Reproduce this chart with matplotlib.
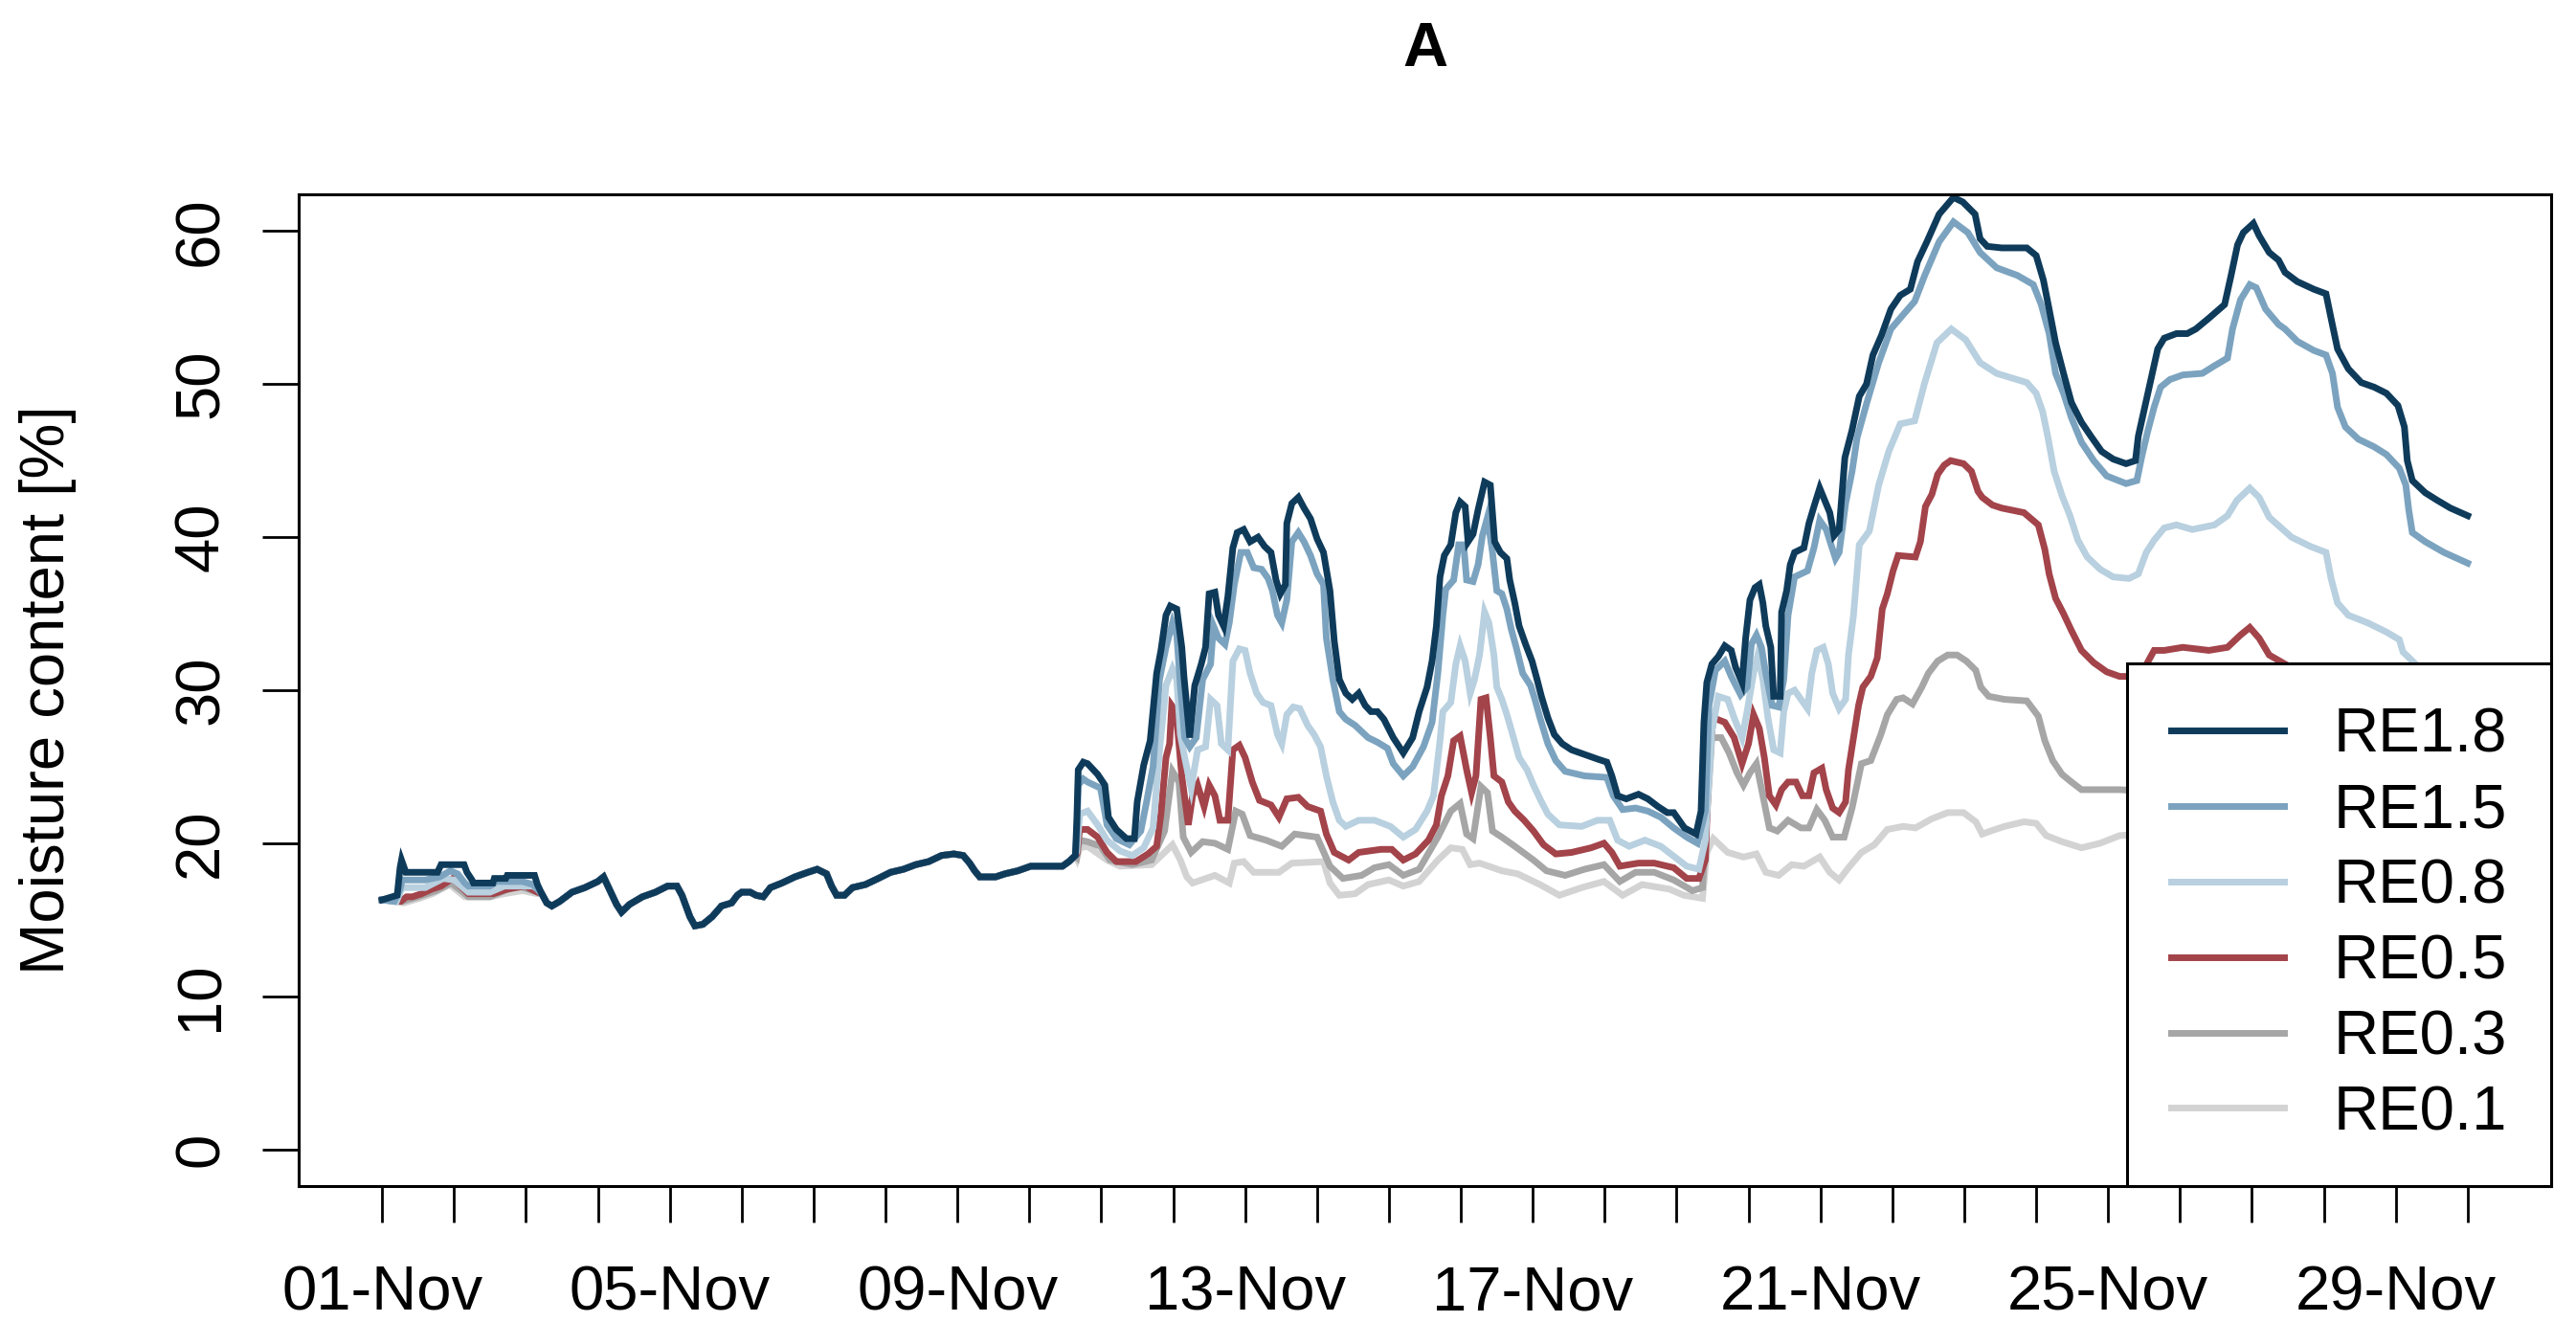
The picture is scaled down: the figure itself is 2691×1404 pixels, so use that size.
import matplotlib
matplotlib.use("Agg")
import matplotlib.pyplot as plt

plt.rcParams['font.family'] = ['Liberation Sans', 'DejaVu Sans']

# x = days since 01-Nov 00:00, y = moisture content [%]
series_names = ['RE1.8', 'RE1.5', 'RE0.8', 'RE0.5', 'RE0.3', 'RE0.1']
series_colors = ['#0f3b5b', '#7ba3bf', '#b8d0df', '#a3434a', '#a6a6a6', '#d3d3d3']

day_labels = ['01-Nov', '05-Nov', '09-Nov', '13-Nov', '17-Nov', '21-Nov', '25-Nov', '29-Nov']

# common stretch (02-Nov .. 10-Nov) where all curves lie on top of each other
base_t = [2.22, 2.29, 2.36, 2.47, 2.64, 2.82, 3.0, 3.08, 3.17, 3.26, 3.33, 3.44, 3.62, 3.8,
          3.97, 4.1, 4.17, 4.28, 4.35, 4.46, 4.59, 4.72, 4.86, 4.94, 5.0, 5.12, 5.2, 5.3,
          5.4, 5.56, 5.74, 5.92, 6.05, 6.18, 6.25, 6.32, 6.43, 6.54, 6.72, 6.9, 7.07, 7.25,
          7.42, 7.6, 7.78, 7.95, 8.08, 8.17, 8.24, 8.31, 8.53, 8.66, 8.84, 9.02, 9.2, 9.46,
          9.55, 9.64]
base_v = [16.7, 16.1, 15.9, 16.2, 16.8, 17.1, 17.5, 17.8, 16.9, 16.0, 15.5, 16.0, 16.5, 16.8,
          17.2, 17.2, 16.6, 15.2, 14.6, 14.7, 15.2, 15.9, 16.1, 16.6, 16.8, 16.8, 16.6, 16.5,
          17.1, 17.4, 17.8, 18.1, 18.3, 18.0, 17.2, 16.6, 16.6, 17.1, 17.3, 17.7, 18.1, 18.3,
          18.6, 18.8, 19.2, 19.3, 19.2, 18.7, 18.2, 17.8, 17.8, 18.0, 18.2, 18.5, 18.5, 18.5,
          18.8, 19.2]

# RE1.8
re18_start_t = [0, 0.21, 0.25, 0.27, 0.33, 0.77, 0.82, 1.14, 1.18, 1.25, 1.27, 1.54, 1.56,
                1.72, 1.74, 2.12, 2.16]
re18_start_v = [16.3, 16.6, 18.4, 18.9, 18.1, 18.1, 18.6, 18.6, 18.1, 17.6, 17.4, 17.4, 17.7,
                17.7, 17.9, 17.9, 17.3]
re18_end_t = [9.66, 9.68, 9.75, 9.81, 9.95, 10.05, 10.1, 10.21, 10.35, 10.46, 10.5, 10.59,
              10.68, 10.77, 10.83, 10.9, 10.96, 11.05, 11.12, 11.15, 11.23, 11.3, 11.39, 11.45,
              11.5, 11.58, 11.63, 11.7, 11.76, 11.83, 11.89, 11.98, 12.07, 12.18, 12.27, 12.36,
              12.43, 12.49, 12.56, 12.58, 12.65, 12.74, 12.82, 12.91, 13.0, 13.09, 13.18, 13.24,
              13.31, 13.4, 13.49, 13.58, 13.67, 13.75, 13.84, 13.93, 14.06, 14.2, 14.33, 14.42,
              14.53, 14.6, 14.66, 14.71, 14.77, 14.86, 14.93, 14.99, 15.06, 15.1, 15.17, 15.24,
              15.33, 15.41, 15.47, 15.55, 15.64, 15.68, 15.75, 15.81, 15.9, 15.99, 16.06, 16.12,
              16.21, 16.3, 16.41, 16.54, 16.72, 16.9, 17.03, 17.1, 17.18, 17.3, 17.47, 17.6,
              17.74, 17.87, 17.96, 18.11, 18.27, 18.34, 18.38, 18.42, 18.49, 18.58, 18.67, 18.76,
              18.82, 18.91, 18.96, 19.02, 19.09, 19.15, 19.2, 19.24, 19.31, 19.35, 19.44, 19.46,
              19.53, 19.58, 19.64, 19.77, 19.84, 19.91, 19.99, 20.06, 20.13, 20.19, 20.26, 20.34,
              20.44, 20.54, 20.64, 20.73, 20.85, 20.98, 21.11, 21.25, 21.35, 21.48, 21.65, 21.85,
              21.98, 22.15, 22.22, 22.32, 22.52, 22.87, 23.0, 23.1, 23.18, 23.27, 23.38, 23.49,
              23.63, 23.76, 23.91, 24.07, 24.25, 24.38, 24.42, 24.51, 24.6, 24.69, 24.78, 24.95,
              25.1, 25.22, 25.4, 25.62, 25.71, 25.8, 25.88, 26.02, 26.1, 26.24, 26.37, 26.46,
              26.63, 26.86, 27.03, 27.1, 27.19, 27.34, 27.52, 27.7, 27.87, 28.03, 28.12, 28.16,
              28.23, 28.41, 28.58, 28.76, 29.0]
re18_end_v = [21.5, 24.8, 25.3, 25.2, 24.5, 23.8, 21.7, 20.9, 20.3, 20.3, 22.7, 25.1,
              26.7, 31.1, 32.6, 34.9, 35.5, 35.3, 32.8, 30.9, 26.9, 30.3, 31.7, 32.8,
              36.3, 36.4, 34.9, 34.2, 36.1, 39.3, 40.3, 40.5, 39.7, 40.0, 39.4, 39.0,
              37.2, 36.3, 36.9, 40.9, 42.2, 42.6, 41.9, 41.2, 39.9, 39.0, 36.5, 33.2,
              30.7, 29.8, 29.4, 29.8, 29.0, 28.6, 28.6, 28.1, 26.9, 25.9, 26.9, 28.6,
              30.2, 31.9, 34.2, 37.4, 38.8, 39.5, 41.6, 42.3, 42.0, 39.7, 40.2, 41.8,
              43.6, 43.4, 39.7, 39.0, 38.6, 37.2, 35.7, 34.2, 33.0, 31.9, 30.7, 29.6,
              28.2, 27.1, 26.5, 26.1, 25.8, 25.5, 25.3, 24.4, 23.1, 22.9, 23.2, 22.9,
              22.4, 22.0, 22.0, 21.0, 20.6, 22.1, 27.9, 30.5, 31.7, 32.2, 32.9, 32.6,
              31.5, 30.5, 33.4, 35.9, 36.7, 36.9, 35.7, 34.2, 32.8, 29.6, 29.6, 35.1,
              36.5, 38.2, 39.0, 39.3, 40.9, 42.0, 43.2, 42.4, 41.6, 40.1, 40.5, 45.2,
              47.0, 49.2, 50.0, 51.9, 53.2, 54.9, 55.8, 56.2, 58.0, 59.3, 61.1, 62.2,
              61.9, 61.1, 59.5, 59.0, 58.9, 58.9, 58.4, 56.8, 54.9, 52.7, 50.7, 48.8,
              47.5, 46.6, 45.6, 45.1, 44.8, 45.0, 46.6, 48.5, 50.4, 52.3, 53.0, 53.3,
              53.3, 53.6, 54.3, 55.2, 57.1, 59.1, 59.9, 60.5, 59.7, 58.6, 58.1, 57.3,
              56.7, 56.2, 55.9, 54.3, 52.3, 51.0, 50.1, 49.8, 49.4, 48.6, 47.2, 45.0,
              43.7, 42.9, 42.4, 41.9, 41.4]

# RE1.5
re15_start_t = [0, 0.17, 0.25, 0.28, 0.6, 0.8, 0.95, 1.05, 1.15, 1.2, 1.5, 1.6, 1.95, 2.1, 2.16]
re15_start_v = [16.3, 16.2, 17.0, 17.6, 17.6, 17.8, 18.2, 18.0, 17.4, 17.2, 17.2, 17.5, 17.5,
                17.3, 17.0]
re15_end_t = [9.66, 9.68, 9.75, 9.81, 9.99, 10.08, 10.21, 10.39, 10.55, 10.63, 10.72, 10.81,
              10.9, 10.99, 11.05, 11.1, 11.16, 11.23, 11.32, 11.41, 11.52, 11.56, 11.63, 11.72,
              11.78, 11.85, 11.94, 12.03, 12.12, 12.23, 12.32, 12.38, 12.45, 12.51, 12.58, 12.65,
              12.74, 12.82, 12.91, 13.0, 13.09, 13.13, 13.22, 13.31, 13.4, 13.53, 13.62, 13.71,
              13.84, 13.98, 14.06, 14.2, 14.33, 14.48, 14.6, 14.68, 14.75, 14.79, 14.9, 14.97,
              15.04, 15.08, 15.17, 15.24, 15.3, 15.37, 15.44, 15.5, 15.57, 15.64, 15.7, 15.77,
              15.86, 15.97, 16.03, 16.1, 16.21, 16.32, 16.45, 16.72, 17.03, 17.12, 17.25, 17.43,
              17.6, 17.78, 17.96, 18.14, 18.29, 18.4, 18.45, 18.54, 18.67, 18.76, 18.89, 18.98,
              19.04, 19.11, 19.18, 19.24, 19.33, 19.42, 19.49, 19.55, 19.64, 19.82, 19.91, 19.99,
              20.08, 20.21, 20.26, 20.35, 20.44, 20.51, 20.64, 20.81, 20.98, 21.18, 21.31, 21.45,
              21.65, 21.85, 22.05, 22.22, 22.45, 22.74, 22.96, 23.07, 23.18, 23.27, 23.38, 23.49,
              23.63, 23.8, 23.98, 24.25, 24.4, 24.47, 24.55, 24.64, 24.73, 24.86, 25.04, 25.31,
              25.48, 25.66, 25.73, 25.84, 25.97, 26.06, 26.19, 26.37, 26.46, 26.63, 26.86, 27.03,
              27.12, 27.19, 27.3, 27.48, 27.7, 27.87, 28.05, 28.14, 28.18, 28.23, 28.41, 28.67,
              29.0]
re15_end_v = [20.5, 23.8, 24.2, 24.0, 23.6, 21.2, 20.3, 19.9, 20.8, 22.7, 25.0, 30.7,
              32.8, 34.4, 33.6, 30.3, 26.9, 26.3, 26.9, 30.7, 31.7, 34.2, 33.4, 33.0,
              34.4, 36.9, 39.0, 39.0, 38.0, 37.9, 37.3, 36.5, 34.9, 34.4, 35.9, 39.7,
              40.3, 39.7, 38.8, 37.6, 36.9, 33.4, 30.7, 28.6, 28.1, 27.7, 27.3, 26.9,
              26.6, 26.2, 25.2, 24.4, 25.0, 26.3, 27.9, 31.1, 34.9, 36.6, 37.2, 39.5,
              39.5, 37.2, 37.1, 38.2, 40.1, 41.3, 39.0, 36.5, 36.3, 35.3, 34.0, 32.8,
              31.1, 30.3, 29.4, 28.2, 26.5, 25.4, 24.7, 24.4, 24.3, 23.1, 22.2, 22.3,
              22.1, 21.7, 21.0, 20.4, 20.0, 22.1, 29.0, 31.3, 31.9, 30.9, 29.7, 30.2,
              33.0, 33.6, 32.8, 31.1, 29.0, 28.9, 30.7, 34.9, 37.4, 37.8, 39.3, 41.1,
              40.5, 38.6, 39.0, 42.2, 44.3, 46.5, 48.7, 51.4, 53.6, 54.7, 55.4, 57.1,
              59.3, 60.6, 59.9, 58.6, 57.6, 57.1, 56.5, 55.2, 53.3, 50.7, 49.4, 47.8,
              46.2, 45.0, 44.0, 43.5, 43.7, 45.3, 46.9, 48.5, 49.8, 50.3, 50.6, 50.7,
              51.2, 51.7, 53.6, 55.5, 56.5, 56.3, 54.9, 53.9, 53.6, 52.8, 52.2, 51.9,
              50.7, 48.5, 47.2, 46.4, 45.9, 45.4, 44.5, 43.4, 41.8, 40.3, 39.7, 39.0,
              38.3]

# RE0.8
re08_start_t = [0, 0.2, 0.28, 0.6, 0.85, 1.0, 1.15, 1.2, 1.5, 1.7, 2.1, 2.16]
re08_start_v = [16.3, 16.2, 17.1, 17.1, 17.7, 17.6, 17.0, 16.8, 16.8, 17.2, 17.2, 17.0]
re08_end_t = [9.66, 9.7, 9.81, 9.95, 10.08, 10.26, 10.43, 10.59, 10.72, 10.81, 10.9, 10.99,
              11.05, 11.1, 11.16, 11.25, 11.34, 11.45, 11.52, 11.61, 11.67, 11.76, 11.83, 11.92,
              12.0, 12.07, 12.16, 12.25, 12.36, 12.45, 12.51, 12.58, 12.67, 12.76, 12.87, 12.96,
              13.05, 13.13, 13.22, 13.31, 13.4, 13.58, 13.8, 14.02, 14.2, 14.37, 14.53, 14.62,
              14.71, 14.75, 14.86, 14.93, 14.99, 15.06, 15.13, 15.19, 15.26, 15.33, 15.39, 15.46,
              15.5, 15.57, 15.64, 15.72, 15.81, 15.92, 16.01, 16.1, 16.21, 16.37, 16.68, 16.9,
              17.07, 17.18, 17.34, 17.56, 17.78, 18.03, 18.14, 18.31, 18.4, 18.49, 18.58, 18.71,
              18.8, 18.91, 18.98, 19.07, 19.13, 19.2, 19.27, 19.35, 19.44, 19.49, 19.55, 19.64,
              19.73, 19.82, 19.88, 19.95, 20.04, 20.11, 20.17, 20.26, 20.35, 20.39, 20.46, 20.54,
              20.68, 20.81, 20.95, 21.11, 21.31, 21.45, 21.62, 21.82, 22.02, 22.22, 22.45, 22.87,
              23.0, 23.09, 23.16, 23.25, 23.36, 23.47, 23.58, 23.71, 23.89, 24.07, 24.29, 24.42,
              24.53, 24.64, 24.78, 24.95, 25.17, 25.48, 25.66, 25.79, 25.97, 26.1, 26.24, 26.55,
              26.81, 27.03, 27.1, 27.19, 27.34, 27.61, 27.87, 28.05, 28.1, 28.3, 28.6, 29.0]
re08_end_v = [19.5, 21.9, 22.1, 21.2, 20.2, 19.5, 19.2, 19.7, 21.0, 26.1, 30.3, 31.4,
              30.7, 27.1, 25.6, 23.6, 26.1, 26.3, 29.4, 29.0, 26.5, 26.1, 31.9, 32.7,
              32.6, 31.1, 29.8, 29.2, 29.0, 27.1, 26.5, 28.4, 28.9, 28.8, 27.7, 27.1,
              26.3, 24.4, 22.7, 21.5, 21.1, 21.5, 21.5, 21.1, 20.4, 20.9, 22.1, 23.1,
              26.7, 28.6, 29.2, 31.7, 32.9, 31.9, 29.8, 30.7, 32.3, 35.1, 34.4, 32.3,
              30.2, 29.4, 28.4, 27.1, 25.6, 24.8, 23.8, 22.9, 21.9, 21.2, 21.1, 21.5,
              21.5, 20.2, 19.8, 20.2, 19.8, 18.9, 18.5, 18.3, 20.2, 27.3, 29.6, 29.4,
              28.2, 26.9, 28.6, 31.1, 32.3, 30.7, 28.2, 26.1, 25.9, 28.6, 29.8, 30.0,
              29.4, 28.8, 31.1, 32.6, 32.8, 31.7, 29.8, 28.8, 29.4, 32.3, 34.9, 39.5,
              40.4, 43.4, 45.6, 47.4, 47.6, 50.1, 52.7, 53.6, 52.9, 51.4, 50.7, 50.1,
              49.4, 48.2, 46.6, 44.3, 42.7, 41.4, 39.8, 38.7, 37.9, 37.4, 37.3, 37.6,
              39.0, 39.8, 40.6, 40.8, 40.5, 40.8, 41.4, 42.4, 43.2, 42.6, 41.3, 40.0,
              39.4, 39.0, 37.3, 35.7, 34.9, 34.4, 33.8, 33.3, 32.5, 31.6, 30.9, 30.3]

# RE0.5
re05_start_t = [0, 0.26, 0.34, 0.42, 0.55, 0.69, 0.82, 0.98, 1.09, 1.2, 1.55, 1.74, 1.99, 2.16]
re05_start_v = [16.3, 16.2, 16.5, 16.5, 16.7, 17.0, 17.2, 17.7, 17.2, 16.7, 16.7, 17.0, 17.2,
                16.8]
re05_end_t = [9.66, 9.7, 9.81, 9.95, 10.08, 10.21, 10.48, 10.65, 10.77, 10.83, 10.9, 10.95,
              10.98, 11.04, 11.08, 11.12, 11.21, 11.27, 11.34, 11.43, 11.5, 11.58, 11.65, 11.76,
              11.83, 11.92, 12.0, 12.1, 12.2, 12.36, 12.47, 12.58, 12.74, 12.87, 13.05, 13.13,
              13.24, 13.44, 13.58, 13.89, 14.04, 14.2, 14.37, 14.55, 14.66, 14.73, 14.82, 14.9,
              14.99, 15.08, 15.15, 15.21, 15.28, 15.35, 15.41, 15.46, 15.57, 15.66, 15.75, 15.88,
              16.01, 16.15, 16.32, 16.54, 16.81, 16.99, 17.1, 17.21, 17.47, 17.69, 17.96, 18.14,
              18.31, 18.4, 18.45, 18.51, 18.67, 18.8, 18.91, 19.0, 19.07, 19.15, 19.22, 19.29,
              19.38, 19.46, 19.55, 19.66, 19.75, 19.84, 19.91, 20.02, 20.08, 20.17, 20.26, 20.35,
              20.39, 20.46, 20.53, 20.59, 20.7, 20.79, 20.86, 20.93, 21.01, 21.08, 21.32, 21.39,
              21.46, 21.55, 21.63, 21.72, 21.81, 21.99, 22.1, 22.19, 22.25, 22.39, 22.52, 22.83,
              23.03, 23.12, 23.18, 23.27, 23.38, 23.49, 23.63, 23.8, 23.98, 24.16, 24.35, 24.5,
              24.64, 24.78, 25.04, 25.4, 25.66, 25.84, 25.97, 26.1, 26.24, 26.5, 27.0, 27.15,
              27.3, 27.8, 28.1, 28.2, 28.6, 29.0]
re05_end_v = [19.3, 20.9, 20.9, 20.4, 19.4, 18.8, 18.8, 19.3, 19.8, 21.9, 25.6, 26.5,
              29.0, 28.6, 26.5, 24.4, 21.2, 23.1, 23.8, 22.4, 23.8, 23.1, 21.5, 21.5,
              26.1, 26.4, 25.6, 24.0, 22.8, 22.5, 21.7, 22.9, 23.0, 22.4, 22.1, 20.6,
              19.4, 18.9, 19.4, 19.6, 19.6, 18.9, 19.3, 20.2, 21.2, 23.1, 24.4, 26.7,
              27.0, 24.8, 23.3, 24.4, 29.4, 29.5, 26.9, 24.4, 24.0, 22.7, 22.1, 21.5,
              20.8, 19.9, 19.3, 19.4, 19.7, 20.0, 19.4, 18.5, 18.7, 18.7, 18.4, 17.7,
              17.7, 18.9, 25.4, 28.2, 27.9, 26.9, 25.2, 26.5, 28.4, 27.5, 25.6, 23.1,
              22.5, 23.5, 24.0, 24.0, 23.1, 23.1, 24.6, 24.9, 23.5, 22.3, 22.0, 22.7,
              24.8, 26.9, 29.0, 30.2, 30.9, 32.1, 35.3, 36.3, 37.8, 38.8, 38.7, 39.7,
              42.0, 42.8, 44.1, 44.7, 45.0, 44.8, 44.3, 43.0, 42.6, 42.1, 41.9, 41.6,
              40.8, 39.2, 37.6, 36.0, 35.0, 33.9, 32.6, 31.8, 31.2, 30.9, 30.9, 31.4,
              32.6, 32.6, 32.8, 32.6, 32.8, 33.6, 34.1, 33.4, 32.3, 31.6, 31.2, 29.8,
              28.6, 28.0, 27.4, 26.2, 25.5, 25.0]

# RE0.3
re03_start_t = [0, 0.28, 0.5, 0.75, 0.96, 1.1, 1.2, 1.5, 1.7, 1.9, 2.16]
re03_start_v = [16.3, 16.2, 16.5, 16.9, 17.4, 16.9, 16.5, 16.5, 16.9, 17.2, 16.8]
re03_end_t = [9.66, 9.7, 9.81, 9.99, 10.12, 10.43, 10.7, 10.88, 10.99, 11.08, 11.14, 11.25,
              11.41, 11.58, 11.76, 11.87, 11.96, 12.07, 12.29, 12.51, 12.69, 13.0, 13.18, 13.36,
              13.62, 13.8, 14.0, 14.2, 14.42, 14.68, 14.86, 14.99, 15.08, 15.17, 15.28, 15.37,
              15.44, 15.57, 15.75, 16.01, 16.19, 16.45, 16.72, 16.99, 17.21, 17.43, 17.69, 17.96,
              18.22, 18.36, 18.45, 18.49, 18.62, 18.73, 18.84, 18.93, 19.02, 19.11, 19.2, 19.29,
              19.4, 19.55, 19.73, 19.84, 19.95, 20.06, 20.17, 20.33, 20.44, 20.57, 20.7, 20.84,
              20.93, 21.06, 21.15, 21.28, 21.41, 21.5, 21.63, 21.77, 21.9, 22.03, 22.16, 22.23,
              22.34, 22.56, 22.87, 23.03, 23.12, 23.23, 23.36, 23.49, 23.63, 24.16, 24.9, 25.4,
              25.7, 26.0, 26.3, 27.0, 27.2, 28.0, 28.2, 29.0]
re03_end_v = [19.1, 20.2, 20.1, 19.8, 18.9, 18.6, 18.9, 20.8, 24.7, 24.0, 20.4, 19.4,
              20.1, 20.0, 19.6, 22.1, 21.9, 20.5, 20.2, 19.8, 20.6, 20.4, 18.5, 17.7,
              17.9, 18.4, 18.6, 17.9, 18.3, 20.4, 22.1, 22.6, 20.6, 20.3, 23.7, 23.3,
              20.8, 20.4, 19.8, 18.9, 18.2, 17.9, 18.3, 18.6, 17.5, 18.1, 18.1, 17.6,
              16.9, 17.1, 24.0, 26.9, 26.9, 25.9, 24.6, 23.8, 24.6, 25.2, 23.1, 21.0,
              20.8, 21.5, 21.0, 21.0, 22.2, 21.5, 20.4, 20.4, 22.3, 25.2, 25.4, 27.1,
              28.4, 29.4, 29.5, 29.1, 30.2, 31.1, 31.9, 32.3, 32.3, 31.9, 31.3, 30.2,
              29.6, 29.4, 29.3, 28.3, 26.7, 25.4, 24.5, 24.0, 23.5, 23.5, 23.3, 23.3,
              23.8, 24.5, 23.9, 23.4, 22.5, 22.0, 21.2, 20.8]

# RE0.1
re01_start_t = [0, 0.3, 0.52, 0.7, 0.94, 1.15, 1.5, 1.7, 1.95, 2.16]
re01_start_v = [16.3, 16.1, 16.4, 16.7, 17.3, 16.5, 16.5, 16.7, 16.9, 16.7]
re01_end_t = [9.66, 9.7, 9.81, 10.08, 10.26, 10.7, 10.88, 10.99, 11.1, 11.19, 11.27, 11.58,
              11.78, 11.85, 11.98, 12.12, 12.47, 12.65, 13.09, 13.18, 13.31, 13.53, 13.71, 14.0,
              14.2, 14.42, 14.68, 14.86, 15.02, 15.13, 15.26, 15.57, 15.79, 16.1, 16.37, 16.68,
              16.99, 17.25, 17.52, 17.9, 18.1, 18.36, 18.42, 18.51, 18.71, 18.93, 19.11, 19.24,
              19.42, 19.6, 19.77, 19.99, 20.13, 20.26, 20.39, 20.57, 20.75, 20.93, 21.15, 21.32,
              21.55, 21.77, 21.99, 22.16, 22.25, 22.43, 22.56, 22.83, 23.0, 23.14, 23.36, 23.63,
              23.89, 24.16, 24.5, 25.0, 25.5, 26.0, 26.5, 27.2, 28.2, 29.0]
re01_end_v = [19.0, 19.7, 19.8, 18.9, 18.5, 18.6, 19.4, 19.9, 18.9, 17.8, 17.4, 17.9,
              17.4, 18.7, 18.8, 18.1, 18.1, 18.7, 18.8, 17.4, 16.6, 16.7, 17.3, 17.6,
              17.2, 17.5, 18.9, 19.7, 19.6, 18.6, 18.7, 18.2, 18.0, 17.3, 16.6, 17.1,
              17.5, 16.6, 17.3, 17.0, 16.6, 16.4, 19.4, 20.3, 19.4, 19.1, 19.3, 18.1,
              17.9, 18.6, 18.5, 19.1, 18.1, 17.6, 18.4, 19.4, 19.9, 20.9, 21.1, 21.0,
              21.6, 22.0, 22.0, 21.4, 20.6, 20.9, 21.1, 21.4, 21.3, 20.5, 20.1, 19.7,
              20.0, 20.5, 20.6, 20.3, 20.6, 21.0, 20.8, 20.4, 19.8, 19.5]


def build_series():
    starts = [(re18_start_t, re18_start_v), (re15_start_t, re15_start_v),
              (re08_start_t, re08_start_v), (re05_start_t, re05_start_v),
              (re03_start_t, re03_start_v), (re01_start_t, re01_start_v)]
    ends = [(re18_end_t, re18_end_v), (re15_end_t, re15_end_v),
            (re08_end_t, re08_end_v), (re05_end_t, re05_end_v),
            (re03_end_t, re03_end_v), (re01_end_t, re01_end_v)]
    out = []
    for (st, sv), (et, ev) in zip(starts, ends):
        out.append((st + base_t + et, sv + base_v + ev))
    return out


def main():
    W, H = 2691, 1404
    fig = plt.figure(figsize=(W / 200, H / 200), dpi=200)
    left, right, top, bottom = 312, 2665, 203, 1239
    ax = fig.add_axes([left / W, 1 - bottom / H, (right - left) / W, (bottom - top) / H])

    series = build_series()
    lines = {}
    # draw the lowest curve first so RE1.8 ends up on top
    for i in reversed(range(len(series_names))):
        t, v = series[i]
        ln, = ax.plot(t, v, color=series_colors[i], lw=2.5, solid_joinstyle='miter',
                      label=series_names[i])
        lines[series_names[i]] = ln

    ax.set_xlim(-1.16, 30.16)
    ax.set_ylim(-2.4, 62.4)

    ax.set_xticks(range(30))
    ax.set_xticklabels([day_labels[i // 4] if i % 4 == 0 else '' for i in range(30)])
    ax.set_yticks(range(0, 61, 10))
    ax.set_yticklabels([str(y) for y in range(0, 61, 10)])

    ax.tick_params(axis='both', direction='out', length=13.7, width=1.0, labelsize=23.5)
    ax.tick_params(axis='x', pad=16)
    ax.tick_params(axis='y', pad=12, labelrotation=90)
    for lab in ax.get_yticklabels():
        lab.set_va('center')
        lab.set_ha('right')

    for sp in ax.spines.values():
        sp.set_linewidth(1.1)

    leg = ax.legend([lines[n] for n in series_names], series_names,
                    loc='lower right', bbox_to_anchor=(1, 0), borderaxespad=0,
                    fontsize=23.5, fancybox=False, framealpha=1, edgecolor='black',
                    handlelength=1.8, handletextpad=0.8, labelspacing=0.29,
                    borderpad=0.7)
    leg.get_frame().set_linewidth(1.1)

    fig.text(50 / W, 1 - 721 / H, 'Moisture content [%]', rotation=90,
             ha='center', va='center', fontsize=23.5)
    fig.text((left + right) / 2 / W, 1 - 52 / H, 'A', ha='center', va='center',
             fontsize=23.5, fontweight='bold')

    fig.savefig('out.png', dpi=200)
    print("saved out.png")


if __name__ == "__main__":
    main()
